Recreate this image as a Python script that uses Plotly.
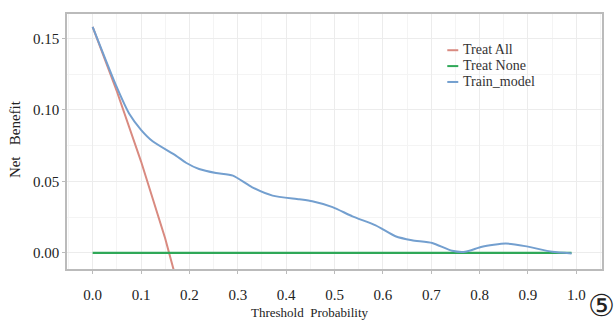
import plotly.graph_objects as go

# Data
thr_all = [0.0, 0.05, 0.10, 0.15, 0.20]
nb_all = [0.158, 0.113, 0.064, 0.010, -0.0525]

thr_none = [0.0, 0.99]
nb_none = [0.0, 0.0]

thr_model = [0.0, 0.049, 0.076, 0.10, 0.124, 0.172, 0.193, 0.22, 0.255, 0.29, 0.33, 0.372,
             0.427, 0.454, 0.496, 0.537, 0.585, 0.626, 0.66, 0.702, 0.743, 0.77, 0.805,
             0.854, 0.894, 0.95, 0.99]
nb_model = [0.158, 0.1165, 0.097, 0.086, 0.078, 0.068, 0.063, 0.0586, 0.0558, 0.054, 0.0458, 0.040,
            0.0375, 0.0361, 0.032, 0.0255, 0.0192, 0.0116, 0.0088, 0.0069, 0.0014, 0.0007, 0.0042,
            0.0065, 0.0047, 0.0007, -0.0004]

x_ticks = [0.0, 0.1, 0.2, 0.3, 0.4, 0.5, 0.6, 0.7, 0.8, 0.9, 1.0]
y_ticks = [0.00, 0.05, 0.10, 0.15]

series_names = ["Treat All", "Treat None", "Train_model"]
series_colors = ["#d98a80", "#2fa858", "#739fcf"]

FONT = "Liberation Serif"
L, R, T, B = 67, 13, 12, 54
W, H = 616, 323
PW, PH = W - L - R, H - T - B


def px_x(px):
    return (px - L) / PW


def px_y(py):
    return (H - B - py) / PH


fig = go.Figure()
fig.add_trace(go.Scatter(x=thr_all, y=nb_all, mode="lines", name=series_names[0],
                         line=dict(color=series_colors[0], width=2)))
fig.add_trace(go.Scatter(x=thr_none, y=nb_none, mode="lines", name=series_names[1],
                         line=dict(color=series_colors[1], width=2.2)))
fig.add_trace(go.Scatter(x=thr_model, y=nb_model, mode="lines", name=series_names[2],
                         line=dict(color=series_colors[2], width=2, shape="spline", smoothing=0.6)))

legend_text = "<br>".join(f"<span style='font-size:14px'>{n}</span>" for n in series_names)

annotations = [
    dict(text="Threshold  Probability", xref="paper", yref="paper",
         x=px_x(310), y=px_y(313), xanchor="center", yanchor="middle",
         showarrow=False, font=dict(family=FONT, size=13, color="#222222")),
    dict(text="Net   Benefit", xref="paper", yref="paper",
         x=px_x(15), y=px_y(138), xanchor="center", yanchor="middle",
         textangle=-90, showarrow=False, font=dict(family=FONT, size=15, color="#222222")),
    dict(text="⑤", xref="paper", yref="paper",
         x=px_x(602), y=px_y(306), xanchor="center", yanchor="middle",
         showarrow=False, font=dict(family="DejaVu Serif", size=30, color="#222222")),
    dict(text=legend_text, xref="paper", yref="paper",
         x=px_x(462), y=px_y(64), xanchor="left", yanchor="middle", align="left",
         showarrow=False, font=dict(family=FONT, size=12.3, color="#333333")),
]
shapes = []
legend_rows = [48.5, 64.5, 80.5]
for color, ry in zip(series_colors, legend_rows):
    shapes.append(dict(type="line", xref="paper", yref="paper", x0=px_x(448), x1=px_x(459),
                       y0=px_y(ry), y1=px_y(ry), line=dict(color=color, width=2)))

fig.update_layout(
    width=W, height=H,
    margin=dict(l=L, r=R, t=T, b=B),
    paper_bgcolor="white", plot_bgcolor="white",
    font=dict(family=FONT, color="#222222"),
    showlegend=False,
    xaxis=dict(range=[-0.053, 1.053], tickvals=x_ticks, ticktext=[f"{v:.1f}" for v in x_ticks],
               tickfont=dict(family=FONT, size=15, color="#222222"),
               ticks="outside", ticklen=3, tickcolor="#bbbbbb", ticklabelstandoff=8,
               showgrid=True, gridcolor="#ececec", gridwidth=1,
               minor=dict(dtick=0.05, tick0=0, showgrid=True, gridcolor="#f4f4f4"),
               showline=True, linecolor="#bbbbbb", linewidth=1.5, mirror=True, zeroline=False),
    yaxis=dict(range=[-0.0113, 0.167], tickvals=y_ticks, ticktext=[f"{v:.2f}" for v in y_ticks],
               tickfont=dict(family=FONT, size=15, color="#222222"),
               ticks="outside", ticklen=3, tickcolor="#bbbbbb",
               showgrid=True, gridcolor="#ececec", gridwidth=1,
               minor=dict(dtick=0.025, tick0=0, showgrid=True, gridcolor="#f4f4f4"),
               showline=True, linecolor="#bbbbbb", linewidth=1.5, mirror=True, zeroline=False),
    annotations=annotations,
    shapes=shapes,
)

fig.write_html("out.html", config={"displayModeBar": False},
               post_script="document.body.style.margin='0';document.body.style.overflow='hidden';")
